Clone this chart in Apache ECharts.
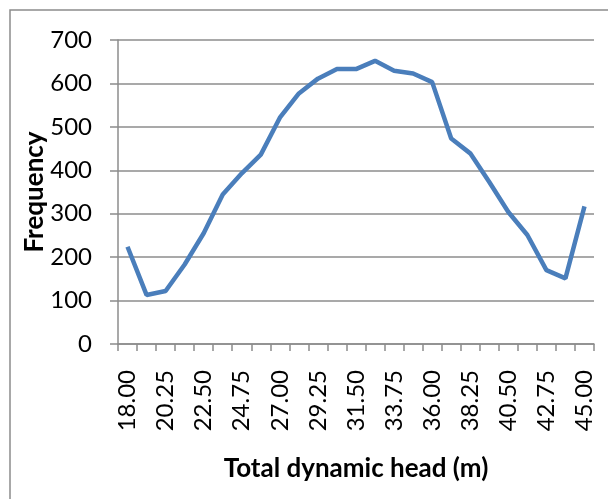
<!DOCTYPE html>
<html><head><meta charset="utf-8">
<script src="https://cdn.jsdelivr.net/npm/echarts@6/dist/echarts.min.js"></script>
<style>html,body{margin:0;padding:0;background:#fff}#c{width:608px;height:499px}</style>
</head><body><div id="c"></div>
<script>
const categories = ["18.00","19.13","20.25","21.38","22.50","23.63","24.75","25.88","27.00","28.13","29.25","30.38","31.50","32.63","33.75","34.88","36.00","37.13","38.25","39.38","40.50","41.63","42.75","43.88","45.00"];
const frequency = [224,113,122,183,255,344,393,436,521,577,611,633,633,652,629,623,603,473,439,373,304,251,170,151,317];
const yTicks = {min:0, max:700, interval:100};

const chart = echarts.init(document.getElementById('c'));
const font = 'Lato, "Open Sans", sans-serif';
chart.setOption({
  animation:false,
  backgroundColor:'#fff',
  graphic:[{type:'rect',shape:{x:10,y:10,width:640,height:540},style:{fill:'none',stroke:'#8c8c8c',lineWidth:1.5},silent:true}],
  grid:{left:118,right:14,top:40,bottom:155},
  xAxis:{
    type:'category', data:categories, boundaryGap:true,
    name:'Total dynamic head (m)', nameLocation:'middle', nameGap:112, nameMoveOverlap:false,
    nameTextStyle:{fontFamily:font,fontWeight:'bold',fontSize:26,color:'#000'},
    axisLine:{lineStyle:{color:'#8c8c8c',width:1.5}},
    axisTick:{show:true,alignWithLabel:false,interval:0,length:7,lineStyle:{color:'#8c8c8c',width:1.5}},
    axisLabel:{interval:1,rotate:90,fontFamily:font,fontSize:24,color:'#000',margin:26}
  },
  yAxis:{
    type:'value', min:yTicks.min, max:yTicks.max, interval:yTicks.interval,
    name:'Frequency', nameLocation:'middle', nameGap:70, nameRotate:90, nameMoveOverlap:false,
    nameTextStyle:{fontFamily:font,fontWeight:'bold',fontSize:26,color:'#000'},
    axisLine:{show:true,lineStyle:{color:'#8c8c8c',width:1.5}},
    axisTick:{show:true,length:8,lineStyle:{color:'#8c8c8c',width:1.5}},
    splitLine:{lineStyle:{color:'#8c8c8c',width:1.5}},
    axisLabel:{fontFamily:font,fontSize:24,color:'#000',margin:26}
  },
  series:[{type:'line',data:frequency,showSymbol:false,symbol:'none',lineStyle:{color:'#4a7ebb',width:4.5},itemStyle:{color:'#4a7ebb'}}]
});
</script></body></html>
